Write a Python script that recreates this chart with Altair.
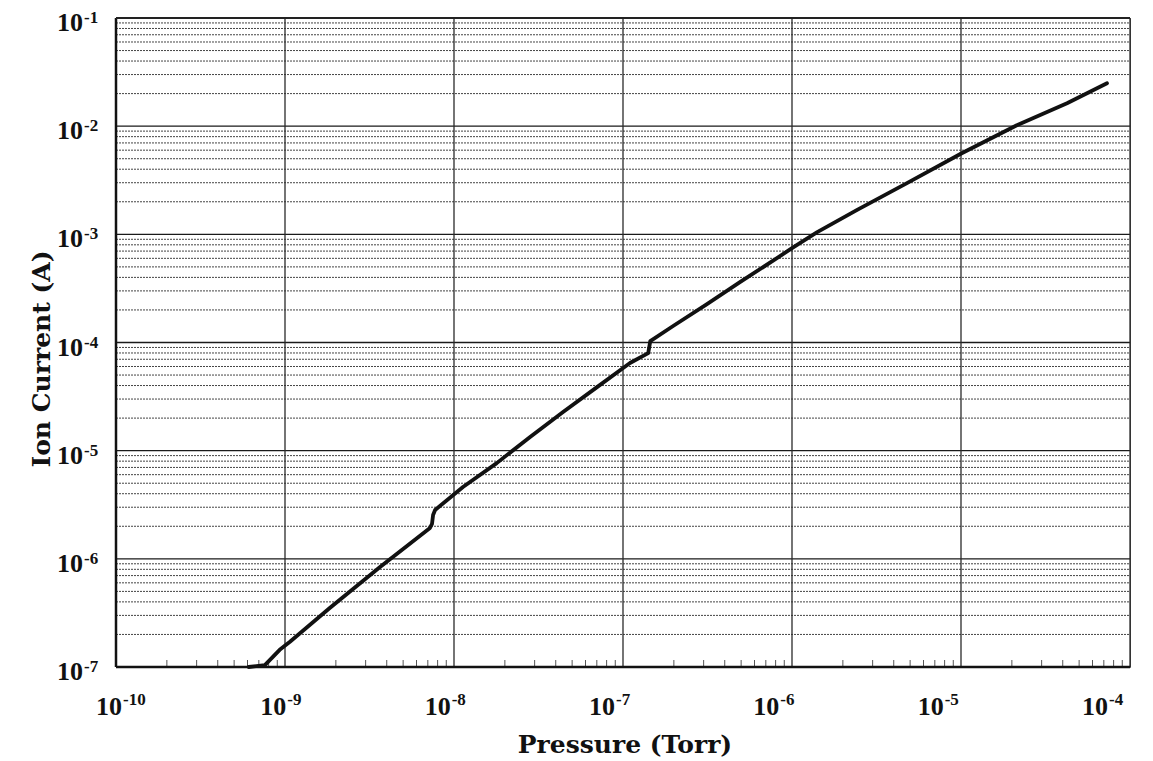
import altair as alt
import pandas as pd

# ---- data ----
pressure = [6.1e-10, 7.6e-10, 9.3e-10, 1.07e-9, 1.84e-9, 3.65e-9, 7.21e-9, 7.41e-9,
            7.52e-9, 7.73e-9, 1.13e-8, 1.79e-8, 2.82e-8, 4.42e-8, 7.02e-8, 1.10e-7,
            1.41e-7, 1.45e-7, 1.98e-7, 3.14e-7, 4.92e-7, 7.73e-7, 1.0e-6, 1.41e-6,
            2.43e-6, 4.79e-6, 1.01e-5, 2.14e-5, 4.24e-5, 7.31e-5]
current = [1.0e-7, 1.04e-7, 1.44e-7, 1.71e-7, 3.51e-7, 8.4e-7, 1.93e-6, 2.10e-6,
           2.54e-6, 2.83e-6, 4.62e-6, 7.67e-6, 1.34e-5, 2.28e-5, 3.87e-5, 6.46e-5,
           7.98e-5, 1.03e-4, 1.42e-4, 2.26e-4, 3.61e-4, 5.71e-4, 7.45e-4, 1.05e-3,
           1.68e-3, 2.97e-3, 5.62e-3, 1.02e-2, 1.63e-2, 2.49e-2]

x_decades = [1e-10, 1e-9, 1e-8, 1e-7, 1e-6, 1e-5, 1e-4]
x_exps = ["-10", "-9", "-8", "-7", "-6", "-5", "-4"]
y_decades = [1e-7, 1e-6, 1e-5, 1e-4, 1e-3, 1e-2, 1e-1]
y_exps = ["-7", "-6", "-5", "-4", "-3", "-2", "-1"]
minor_mult = [2, 3, 4, 5, 6, 7, 8, 9]

x_title = "Pressure (Torr)"
y_title = "Ion Current (A)"

W, H = 1014, 649

curve = pd.DataFrame({"p": pressure, "i": current, "o": list(range(len(pressure)))})
xdec = pd.DataFrame({"v": x_decades, "e": x_exps, "b": ["10"] * len(x_decades)})
ydec = pd.DataFrame({"v": y_decades, "e": y_exps, "b": ["10"] * len(y_decades)})
xminor = pd.DataFrame({"v": [d * m for d in x_decades[:-1] for m in minor_mult]})
yminor = pd.DataFrame({"v": [d * m for d in y_decades[:-1] for m in minor_mult]})
one = pd.DataFrame({"k": [0]})

xs = alt.Scale(type="log", domain=[1e-10, 1e-4], nice=False)
ys = alt.Scale(type="log", domain=[1e-7, 1e-1], nice=False)
# label positions follow the typeset spacing of the reference labels
xs_lab = alt.Scale(type="log", domain=[1e-10, 1e-4], nice=False, range=[6, 992])

X = lambda: alt.X("v:Q", scale=xs, axis=None)
Y = lambda: alt.Y("v:Q", scale=ys, axis=None)

minor_h = alt.Chart(yminor).mark_rule(color="#444", strokeWidth=1, strokeDash=[2, 1]).encode(
    y=Y(), x=alt.value(0), x2=alt.value(W))
major_h = alt.Chart(ydec).mark_rule(color="#1a1a1a", strokeWidth=1.3).encode(
    y=Y(), x=alt.value(0), x2=alt.value(W))
major_v = alt.Chart(xdec).mark_rule(color="#2a2a2a", strokeWidth=1.3).encode(
    x=X(), y=alt.value(0), y2=alt.value(H))
minor_ticks = alt.Chart(xminor).mark_rule(color="#555", strokeWidth=1).encode(
    x=X(), y=alt.value(H), y2=alt.value(H - 7))

left_edge = alt.Chart(one).mark_rule(color="#111", strokeWidth=2.5).encode(
    x=alt.value(0), y=alt.value(0), y2=alt.value(H))
bottom_edge = alt.Chart(one).mark_rule(color="#111", strokeWidth=2.5).encode(
    y=alt.value(H), x=alt.value(0), x2=alt.value(W))
top_edge = alt.Chart(one).mark_rule(color="#222", strokeWidth=2).encode(
    y=alt.value(0), x=alt.value(0), x2=alt.value(W))

line = alt.Chart(curve).mark_line(color="#111", strokeWidth=3.8, strokeJoin="round",
                                  strokeCap="round").encode(
    x=alt.X("p:Q", scale=xs, axis=None),
    y=alt.Y("i:Q", scale=ys, axis=None),
    order="o:Q")

lab_font = dict(font="Liberation Serif", fontWeight="bold", color="#111")

x_base = alt.Chart(xdec).mark_text(align="right", baseline="alphabetic", fontSize=26, **lab_font).encode(
    x=alt.X("v:Q", scale=xs_lab, axis=None), y=alt.value(H + 48), text="b:N")
x_exp = alt.Chart(xdec).mark_text(align="left", baseline="alphabetic", fontSize=17, dx=1, **lab_font).encode(
    x=alt.X("v:Q", scale=xs_lab, axis=None), y=alt.value(H + 38), text="e:N")

y_base = alt.Chart(ydec).mark_text(align="right", baseline="alphabetic", fontSize=26, dy=13, **lab_font).encode(
    y=Y(), x=alt.value(-33), text="b:N")
y_exp = alt.Chart(ydec).mark_text(align="left", baseline="alphabetic", fontSize=17, dy=5, **lab_font).encode(
    y=Y(), x=alt.value(-32), text="e:N")

title_font = dict(font="DejaVu Serif", fontWeight="bold", fontSize=25, color="#111")
xt = alt.Chart(pd.DataFrame({"t": [x_title]})).mark_text(align="center", baseline="alphabetic", **title_font).encode(
    x=alt.value(509), y=alt.value(H + 86), text="t:N")
yt = alt.Chart(pd.DataFrame({"t": [y_title]})).mark_text(align="center", baseline="alphabetic", angle=270, **title_font).encode(
    x=alt.value(-66), y=alt.value(341), text="t:N")

chart = alt.layer(
    minor_h, major_h, major_v, minor_ticks, line,
    left_edge, bottom_edge, top_edge,
    x_base, x_exp, y_base, y_exp, xt, yt,
).resolve_scale(x="independent", y="independent").properties(
    width=W, height=H,
    autosize=alt.AutoSizeParams(type="none"),
    padding={"left": 108, "top": 10, "right": 15, "bottom": 95},
    background="white",
).configure_view(stroke="#444", strokeWidth=1)

chart.save("out.html", embed_options={"renderer": "svg", "actions": False})
